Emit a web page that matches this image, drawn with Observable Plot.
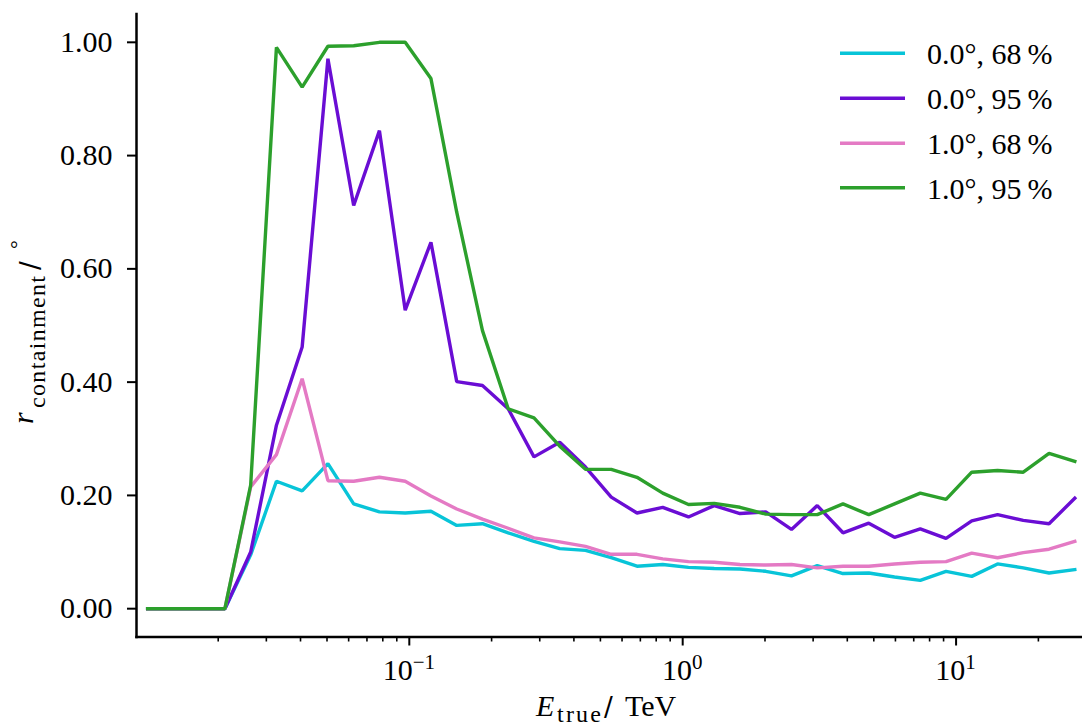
<!DOCTYPE html>
<html>
<head>
<meta charset="utf-8">
<script src="https://cdn.jsdelivr.net/npm/d3@7"></script>
<script src="https://cdn.jsdelivr.net/npm/@observablehq/plot@0.6"></script>
<style>
  html, body { margin: 0; padding: 0; background: #ffffff; }
  #chart { width: 1082px; height: 726px; }
</style>
</head>
<body>
<div id="chart"></div>
<script>
// True energy bin centres (TeV)
const energy = [0.01104, 0.01372, 0.01703, 0.02116, 0.02629, 0.03266, 0.04056, 0.05039, 0.0626, 0.07776,
  0.09661, 0.12, 0.1491, 0.1852, 0.23, 0.2858, 0.355, 0.441, 0.5478, 0.6805,
  0.8453, 1.05, 1.304, 1.62, 2.013, 2.5, 3.106, 3.858, 4.793, 5.954,
  7.396, 9.188, 11.41, 14.18, 17.61, 21.88, 27.18];

// Containment radius (deg) per series
const off00_68 = [0, 0, 0, 0, 0.095, 0.225, 0.208, 0.256, 0.185, 0.171,
  0.169, 0.172, 0.147, 0.150, 0.134, 0.119, 0.106, 0.103, 0.090, 0.075,
  0.078, 0.073, 0.071, 0.070, 0.066, 0.058, 0.076, 0.062, 0.063, 0.056,
  0.050, 0.066, 0.057, 0.079, 0.072, 0.063, 0.069];
const off00_95 = [0, 0, 0, 0, 0.100, 0.324, 0.462, 0.971, 0.712, 0.844,
  0.527, 0.647, 0.401, 0.394, 0.353, 0.268, 0.294, 0.250, 0.197, 0.169,
  0.179, 0.162, 0.182, 0.168, 0.171, 0.140, 0.182, 0.134, 0.151, 0.126,
  0.141, 0.124, 0.155, 0.166, 0.156, 0.150, 0.195];
const off10_68 = [0, 0, 0, 0, 0.215, 0.272, 0.406, 0.226, 0.225, 0.232,
  0.225, 0.199, 0.176, 0.158, 0.142, 0.125, 0.118, 0.110, 0.096, 0.096,
  0.088, 0.083, 0.082, 0.078, 0.077, 0.078, 0.072, 0.075, 0.075, 0.079,
  0.082, 0.083, 0.098, 0.090, 0.099, 0.105, 0.119];
const off10_95 = [0, 0, 0, 0, 0.218, 0.991, 0.921, 0.993, 0.994, 1.000,
  1.000, 0.936, 0.700, 0.491, 0.353, 0.337, 0.287, 0.246, 0.246, 0.232,
  0.204, 0.184, 0.186, 0.179, 0.167, 0.166, 0.166, 0.185, 0.166, 0.185,
  0.204, 0.193, 0.241, 0.244, 0.241, 0.274, 0.260];

const seriesLabels = ["0.0°, 68\u2009%", "0.0°, 95\u2009%", "1.0°, 68\u2009%", "1.0°, 95\u2009%"];
const seriesColors = ["#08c4d8", "#6a0dd4", "#e47ac4", "#2ca02c"];
const seriesValues = [off00_68, off00_95, off10_68, off10_95];

const yTicks = [0, 0.2, 0.4, 0.6, 0.8, 1.0];
const xMajorTicks = [0.1, 1, 10];
const xMajorExp = ["\u22121", "0", "1"];
const xMinorTicks = [0.02, 0.03, 0.04, 0.05, 0.06, 0.07, 0.08, 0.09,
  0.2, 0.3, 0.4, 0.5, 0.6, 0.7, 0.8, 0.9,
  2, 3, 4, 5, 6, 7, 8, 9, 20];

const serif = "'Liberation Serif', 'DejaVu Serif', serif";

const lineMarks = seriesValues.map((vals, s) =>
  Plot.line(vals, {x: (d, i) => energy[i], y: d => d, stroke: seriesColors[s], strokeWidth: 3.4,
    strokeLinejoin: "miter", strokeLinecap: "square"})
);

const plot = Plot.plot({
  width: 1082,
  height: 726,
  marginLeft: 136,
  marginRight: 0,
  marginTop: 13.5,
  marginBottom: 89.5,
  style: {fontFamily: serif, fontSize: "30px", background: "#ffffff", color: "#000000", overflow: "visible"},
  x: {type: "log", domain: [0.01005, 29.0]},
  y: {domain: [-0.05, 1.05]},
  marks: [
    Plot.axisY({ticks: yTicks, tickFormat: d => d.toFixed(2), tickSize: 9, tickPadding: 15,
      strokeWidth: 2, fontSize: 30, label: null}),
    Plot.axisX({ticks: xMinorTicks, tickFormat: () => "", tickSize: 5, strokeWidth: 1.6, label: null}),
    Plot.axisX({ticks: xMajorTicks, tickFormat: () => "", tickSize: 9, strokeWidth: 2, label: null}),
    ...lineMarks,
    Plot.frame({anchor: "left", strokeWidth: 2.5}),
    Plot.frame({anchor: "bottom", strokeWidth: 2.5})
  ]
});

document.getElementById("chart").appendChild(plot);

const svg = d3.select(plot);
const xs = plot.scale("x");

// x tick labels with superscript exponents
xMajorTicks.forEach((v, i) => {
  const t = svg.append("text")
    .attr("x", xs.apply(v))
    .attr("y", 679.5)
    .attr("text-anchor", "middle")
    .attr("font-family", serif)
    .attr("font-size", 30)
    .attr("fill", "#000");
  t.append("tspan").text("10");
  t.append("tspan").attr("dy", -11).attr("font-size", 21).text(xMajorExp[i]);
});

// x axis label: E_true / TeV
const xl = svg.append("text")
  .attr("y", 716)
  .attr("text-anchor", "start")
  .attr("font-family", serif)
  .attr("font-size", 30)
  .attr("fill", "#000");
xl.append("tspan").attr("x", 536).attr("font-style", "italic").text("E");
xl.append("tspan").attr("x", 557).attr("dy", 6).attr("font-size", 24)
  .attr("textLength", 44).attr("lengthAdjust", "spacing").text("true");
xl.append("tspan").attr("x", 604).attr("dy", -6).attr("font-family", "'DejaVu Sans', sans-serif")
  .attr("font-size", 26).text("/");
xl.append("tspan").attr("x", 625).text("TeV");

// y axis label: r_containment / °
const yl = svg.append("text")
  .attr("transform", "translate(33,0) rotate(-90)")
  .attr("text-anchor", "start")
  .attr("font-family", serif)
  .attr("font-size", 30)
  .attr("fill", "#000");
yl.append("tspan").attr("x", -424).attr("y", 0).attr("font-style", "italic").text("r");
yl.append("tspan").attr("x", -408).attr("y", 12).attr("font-size", 24)
  .attr("textLength", 132).attr("lengthAdjust", "spacing").text("containment");
yl.append("tspan").attr("x", -270).attr("y", 6).attr("font-family", "'DejaVu Sans', sans-serif")
  .attr("font-size", 26).text("/");
yl.append("tspan").attr("x", -249).attr("y", -8).attr("font-size", 22).text("°");

// legend
const legendY = [53.3, 98.3, 143.3, 187.7];
seriesLabels.forEach((lab, i) => {
  svg.append("line")
    .attr("x1", 840).attr("x2", 905)
    .attr("y1", legendY[i]).attr("y2", legendY[i])
    .attr("stroke", seriesColors[i]).attr("stroke-width", 3.4);
  svg.append("text")
    .attr("x", 927).attr("y", legendY[i] + 11)
    .attr("text-anchor", "start")
    .attr("font-family", serif).attr("font-size", 30).attr("fill", "#000")
    .text(lab);
});
</script>
</body>
</html>
